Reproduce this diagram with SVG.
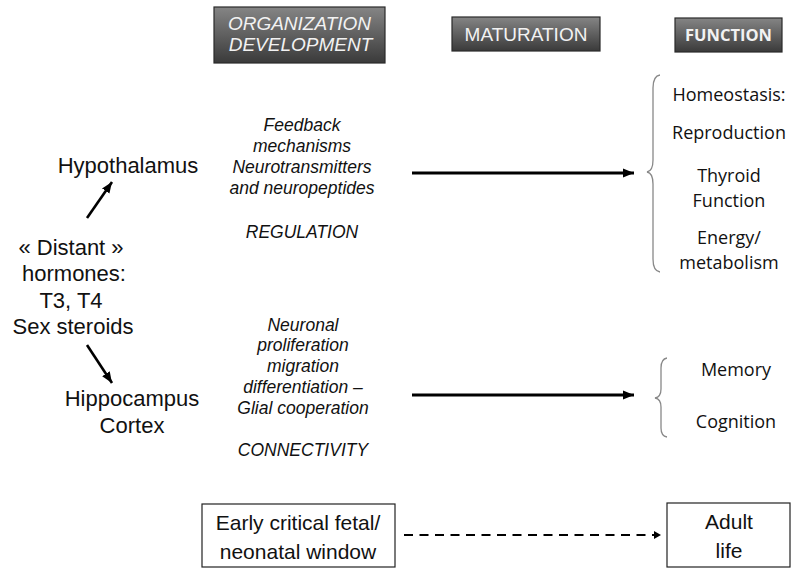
<svg xmlns="http://www.w3.org/2000/svg" width="795" height="568" viewBox="0 0 795 568">
<defs>
<linearGradient id="hdr" x1="0" y1="0" x2="0" y2="1">
<stop offset="0" stop-color="#858585"/>
<stop offset="1" stop-color="#3a3a3a"/>
</linearGradient>
<marker id="ah" markerUnits="userSpaceOnUse" markerWidth="12" markerHeight="12" viewBox="0 0 12 12" refX="11" refY="6" orient="auto">
<path d="M0,1.5 L11,6 L0,10.5 Z" fill="#000"/>
</marker>
</defs>
<style>
.hbox{fill:url(#hdr);stroke:#2a2a2a;stroke-width:1.2}
.htxt{font-family:"Liberation Sans",Arial,sans-serif;font-size:19px;fill:#f2f2f2;text-anchor:middle}
.lt{font-family:"Liberation Sans",Arial,sans-serif;font-size:22px;fill:#111;text-anchor:middle}
.mt{font-family:"Liberation Sans",Arial,sans-serif;font-size:17.5px;font-style:italic;fill:#111;text-anchor:middle}
.rt{font-family:"Open Sans","Noto Sans",sans-serif;font-size:18px;fill:#111;text-anchor:middle}
.bt{font-family:"Liberation Sans",Arial,sans-serif;font-size:21px;fill:#111;text-anchor:middle}
.box{fill:#fff;stroke:#222;stroke-width:1.2}
.brace{fill:none;stroke:#888;stroke-width:1.3}
.conn{stroke:#000;fill:none}
</style>
<rect width="795" height="568" fill="#fff"/>

<g id="hdr-organization">
<rect class="hbox" x="214" y="7" width="171" height="56"/>
<text class="htxt" x="299.5" y="30" font-style="italic">ORGANIZATION</text>
<text class="htxt" x="300.5" y="51" font-style="italic">DEVELOPMENT</text>
</g>
<g id="hdr-maturation">
<rect class="hbox" x="452" y="17" width="148" height="34"/>
<text class="htxt" x="526" y="41">MATURATION</text>
</g>
<g id="hdr-function">
<rect class="hbox" x="675" y="18" width="107" height="34"/>
<text class="htxt" x="728.5" y="41" style="font-family:'Open Sans','Noto Sans',sans-serif;font-weight:bold;font-size:16.5px">FUNCTION</text>
</g>

<g id="hypothalamus">
<text class="lt" x="128" y="173">Hypothalamus</text>
</g>
<g id="hormones">
<text class="lt" x="71" y="255">« Distant »</text>
<text class="lt" x="74" y="281">hormones:</text>
<text class="lt" x="71" y="308">T3, T4</text>
<text class="lt" x="73" y="334">Sex steroids</text>
</g>
<g id="hippocampus">
<text class="lt" x="132" y="406">Hippocampus</text>
<text class="lt" x="132" y="433">Cortex</text>
</g>

<g id="regulation">
<text class="mt" x="302" y="131">Feedback</text>
<text class="mt" x="302" y="152">mechanisms</text>
<text class="mt" x="302" y="173">Neurotransmitters</text>
<text class="mt" x="302" y="194">and neuropeptides</text>
<text class="mt" x="302" y="238">REGULATION</text>
</g>
<g id="connectivity">
<text class="mt" x="303" y="331">Neuronal</text>
<text class="mt" x="303" y="351">proliferation</text>
<text class="mt" x="303" y="372">migration</text>
<text class="mt" x="303" y="393">differentiation –</text>
<text class="mt" x="303" y="414">Glial cooperation</text>
<text class="mt" x="303" y="456">CONNECTIVITY</text>
</g>

<g id="function-homeostasis">
<path class="brace" d="M660,75 Q653,76 653,88 L653,160 Q653,171 647,172 Q653,173 653,184 L653,259 Q653,271 660,272"/>
<text class="rt" x="729" y="101">Homeostasis:</text>
<text class="rt" x="729" y="139">Reproduction</text>
<text class="rt" x="729" y="182">Thyroid</text>
<text class="rt" x="729" y="207">Function</text>
<text class="rt" x="729" y="244">Energy/</text>
<text class="rt" x="729" y="269">metabolism</text>
</g>
<g id="function-memory">
<path class="brace" d="M667,358 Q661,359 661,368 L661,389 Q661,397 655,398 Q661,399 661,407 L661,428 Q661,436 667,437"/>
<text class="rt" x="736" y="376">Memory</text>
<text class="rt" x="736" y="428">Cognition</text>
</g>

<g id="early-window">
<rect class="box" x="202" y="504" width="193" height="63"/>
<text class="bt" x="298" y="530">Early critical fetal/</text>
<text class="bt" x="298" y="559">neonatal window</text>
</g>
<g id="adult-life">
<rect class="box" x="667" y="503" width="123" height="64"/>
<text class="bt" x="729" y="529">Adult</text>
<text class="bt" x="729" y="558">life</text>
</g>

<g id="connectors">
<line class="conn" x1="87" y1="218" x2="112" y2="182" stroke-width="2.6" marker-end="url(#ah)"/>
<line class="conn" x1="87" y1="345" x2="112" y2="383" stroke-width="2.6" marker-end="url(#ah)"/>
<line class="conn" x1="412" y1="173" x2="634" y2="173" stroke-width="3" marker-end="url(#ah)"/>
<line class="conn" x1="412" y1="395" x2="634" y2="395" stroke-width="3" marker-end="url(#ah)"/>
<line class="conn" x1="404" y1="535" x2="654" y2="535" stroke-width="2" stroke-dasharray="9 6.5"/>
<path d="M654,531 L661,535 L654,539 Z" fill="#000"/>
</g>
</svg>
